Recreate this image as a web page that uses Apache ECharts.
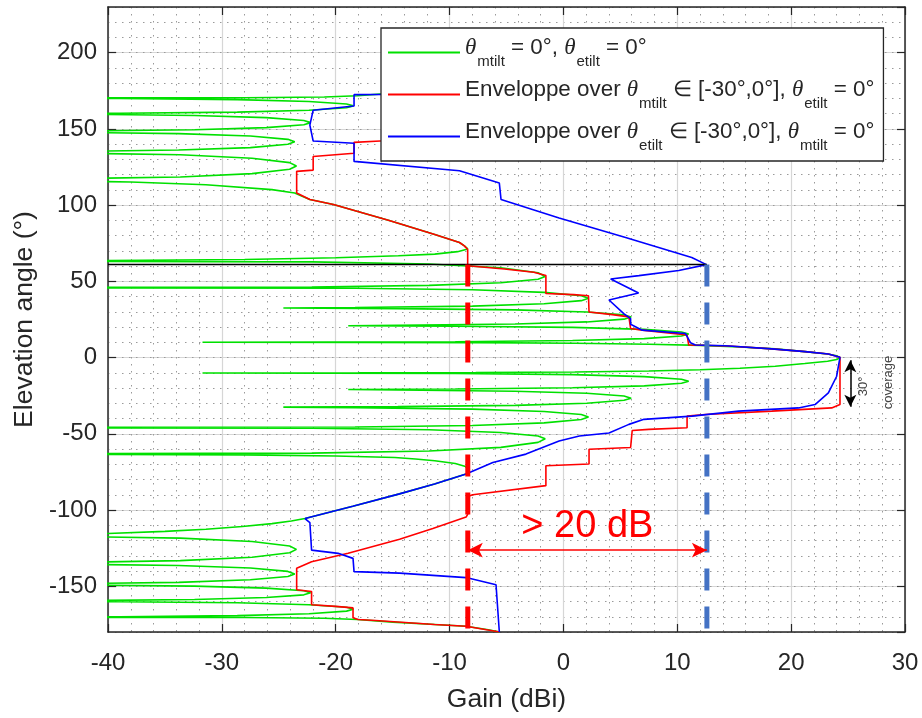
<!DOCTYPE html>
<html><head><meta charset="utf-8">
<script src="https://cdn.jsdelivr.net/npm/echarts/dist/echarts.min.js"></script>
<style>html,body{margin:0;padding:0;background:#fff}#c{width:922px;height:718px}</style>
</head><body><div id="c"></div>
<script>
// ---------- data (angle in degrees, gain in dBi) ----------
const xRange = [-40, 30];
const yRange = [-180, 230];

// green: theta_mtilt = 0, theta_etilt = 0  -> [angle, gain]
const greenBottomBack = [
  [-180,-5.6],[-178.5,-6.6],[-176.2,-8.55],[-175.1,-11.3],[-173.5,-15.0],[-171.8,-18.1],[-171.0,-21],[-170.5,-28],[-170.3,-60],
  [-169.98,-38.95],[-169.25,-28.65],[-167.99,-22.35],[-166.31,-19.05],[-165.05,-18.45],[-163.79,-19.05],[-162.11,-22.35],[-160.85,-28.65],[-160.12,-38.95],[-159.8,-60],
  [-159.47,-42.7],[-158.7,-32.4],[-157.38,-26.1],[-155.62,-22.8],[-154.3,-22.2],[-152.98,-22.8],[-151.22,-26.1],[-149.9,-32.4],[-149.13,-42.7],[-148.8,-60],
  [-148.39,-44.1],[-147.42,-33.8],[-145.76,-27.5],[-143.56,-24.2],[-141.9,-23.6],[-140.24,-24.2],[-138.04,-27.5],[-136.38,-33.8],[-135.41,-44.1],[-135.0,-60],
  [-134.45,-43.95],[-133.16,-33.65],[-130.95,-27.35],[-128.01,-24.05],[-125.8,-23.45],[-123.59,-24.05],[-120.65,-27.35],[-118.44,-33.65],[-117.15,-43.95],[-116.6,-60],
  [-116.2,-45],[-115.4,-40],[-114,-35],[-112.6,-31.4],[-110.8,-28.2],[-108.9,-25.6],[-107.2,-23.9],[-105.6,-22.7],[-97.5,-18.5],[-89.4,-14.4],[-82.9,-11.32],
  [-76.3,-8.55],[-73.5,-8.3],[-71.5,-8.6],[-69.5,-9.5],[-67.7,-11.3],[-66.5,-13],[-65.5,-14.8],[-64.5,-20],[-63.8,-28],[-63.5,-40],[-63.3,-60]
];
const greenFront = [
  [-62.69,-22.1],[-61.28,-11.8],[-58.86,-5.5],[-55.62,-2.23],[-53.2,-1.6],[-51.45,-2.23],[-49.11,-5.5],[-47.36,-11.8],[-46.34,-22.1],[-45.9,-60],
  [-45.48,-18.3],[-44.5,-8.0],[-42.82,-1.7],[-40.58,1.57],[-38.9,2.2],[-37.36,1.57],[-35.32,-1.7],[-33.78,-8.0],[-32.88,-18.3],[-32.5,-24.6],
  [-32.15,-14.55],[-31.32,-4.25],[-29.9,2.05],[-28.02,5.32],[-26.6,5.95],[-25.23,5.32],[-23.41,2.05],[-22.04,-4.25],[-21.24,-14.55],[-20.9,-18.9],
  [-20.58,-9.5],[-19.82,0.8],[-18.52,7.1],[-16.8,10.37],[-15.5,11.0],[-14.2,10.37],[-12.48,7.1],[-11.18,0.8],[-10.42,-9.5],[-10.1,-31.7],
  [-10.0,-18],[-9.8,-7.7],[-9.4,1.0],[-8.8,7.5],[-8.0,12.0],[-7.0,15.5],[-5.7,18.6],[-3.9,21.2],[-2.4,23.2],[-1.2,24.0],[0,24.3],
  [1.2,24.0],[2.4,23.2],[3.9,21.2],[5.7,18.6],[7.0,15.5],[8.0,12.0],[8.8,7.5],[9.4,1.0],[9.8,-7.7],[10.0,-18],[10.1,-31.7],
  [10.42,-9.5],[11.18,0.8],[12.48,7.1],[14.2,10.37],[15.5,11.0],[16.8,10.37],[18.52,7.1],[19.82,0.8],[20.58,-9.5],[20.9,-18.9],
  [21.24,-14.55],[22.04,-4.25],[23.41,2.05],[25.23,5.32],[26.6,5.95],[28.02,5.32],[29.9,2.05],[31.32,-4.25],[32.15,-14.55],[32.5,-24.6],
  [32.88,-18.3],[33.78,-8.0],[35.32,-1.7],[37.36,1.57],[38.9,2.2],[40.58,1.57],[42.82,-1.7],[44.5,-8.0],[45.48,-18.3],[45.9,-60],
  [46.34,-22.1],[47.36,-11.8],[49.11,-5.5],[51.45,-2.23],[53.2,-1.6],[55.65,-2.23],[58.91,-5.5],[61.36,-11.8],[62.79,-22.1],[63.4,-60]
];
const greenTopBack = [
  [63.6,-40],[64.4,-28],[65.5,-20],[66.8,-14.5],[67.9,-11.3],[69.5,-9.3],[71.3,-8.4],[73.3,-8.7],[75.5,-9.13],[80.7,-11.3],[90,-15.3],
  [100.4,-20.2],[103.7,-22.27],[106,-23.0],[108,-23.6],[110.2,-25.6],[113.4,-31.4],[115.2,-38],[116.1,-45],[116.7,-60],
  [117.24,-43.95],[118.51,-33.65],[120.68,-27.35],[123.58,-24.05],[125.75,-23.45],[127.92,-24.05],[130.82,-27.35],[133.09,-33.65],[134.26,-43.95],[134.8,-60],
  [135.2,-44.1],[136.15,-33.8],[137.77,-27.5],[139.93,-24.2],[141.55,-23.6],[143.17,-24.2],[145.33,-27.5],[146.95,-33.8],[147.9,-44.1],[148.3,-60],
  [148.65,-42.7],[149.47,-32.4],[150.87,-26.1],[152.75,-22.8],[154.15,-22.2],[155.55,-22.8],[157.43,-26.1],[158.83,-32.4],[159.65,-42.7],[160.0,-60],
  [160.31,-38.95],[161.03,-28.65],[162.27,-22.35],[163.91,-19.05],[165.15,-18.45],[166.39,-19.05],[168.03,-22.35],[169.27,-28.65],[169.99,-38.95],[170.3,-60],
  [170.5,-28],[171.0,-21],[171.8,-18.1],[173.5,-15.0],[175.1,-11.3],[176.2,-8.55],[178.5,-6.6],[180,-5.6]
];

// red: envelope over mechanical tilt -> [angle, gain]
const redEnvelope = [
  [-180,-5.6],[-179.4,-5.63],[-176.2,-8.55],[-175.1,-11.32],[-172.5,-16.5],[-171.8,-18.04],[-170.7,-18.48],[-164.2,-18.48],[-163.2,-20.0],[-162.1,-22.12],
  [-153.4,-22.12],[-152.3,-23.43],[-138.2,-23.43],[-133.9,-22.12],[-128.4,-18.91],[-119.1,-14.39],[-112.1,-11.47],[-104.6,-8.55],[-102.8,-8.41],
  [-91.1,-8.41],[-90.0,-7.97],[-84.0,-1.54],[-70.9,-1.54],[-69.8,2.25],[-60.1,2.25],[-59.0,5.9],[-47.8,6.04],[-47.1,7.5],[-46.0,10.86],
  [-38.4,10.86],[-37.3,12.47],[-35.1,18.3],[-33.0,23.56],[-30.8,24.29],[0.2,24.29],[2.4,23.27],[3.9,21.23],[5.7,18.3],[7.6,14.5],[8.3,11.0],
  [14.8,10.86],[16.4,9.0],[18.0,6.92],[19.1,5.9],[26.7,5.75],[28.2,4.3],[29.9,2.25],[40.6,2.2],[41.3,0.9],[42.1,-1.54],[53.8,-1.54],
  [56.0,-2.6],[58.1,-5.19],[60.3,-8.41],[70.9,-8.41],[73.3,-8.7],[75.5,-9.13],[80.7,-11.3],[90,-15.3],[100.4,-20.2],[103.7,-22.27],
  [108,-23.43],[122.2,-23.43],[123.0,-21.98],[131.9,-21.98],[134.1,-18.39],[141.2,-18.39],[142.1,-16.1],[142.6,-14]
];

// blue: envelope over electrical tilt -> [angle, gain]
const blueEnvelope = [
  [-180,-5.63],[-149.0,-5.92],[-144.3,-8.55],[-141.4,-14.39],[-140.4,-18.39],[-131.7,-18.48],[-128.4,-19.79],[-126.3,-22.12],[-108.2,-22.27],
  [-105.6,-22.7],[-97.5,-18.5],[-89.4,-14.4],[-82.9,-11.32],[-76.3,-8.55],[-68.8,-6.2],[-63.3,-3.29],[-54.7,-0.38],[-51.4,1.4],[-49.5,4.0],
  [-43.8,5.75],[-40.5,7.07],[-38.4,11.3],[-35.1,15.39],[-33.0,20.64],[-30.8,22.1],[-23.2,23.27],[-12.4,23.99],[0.2,24.29],
  [2.4,23.27],[3.9,21.23],[5.7,18.3],[7.8,14.22],[8.3,11.59],[9.8,11.16],[15.8,10.72],[18.0,6.92],[19.1,6.78],[21.9,5.9],[25.6,5.9],
  [28.8,5.3],[37.8,4.0],[42.4,6.6],[51.6,4.15],[53.8,6.63],[57.1,10.13],[61.0,12.56],[65.7,11.27],[78.8,5.46],[91.6,-0.38],
  [103.7,-5.48],[114.5,-5.63],[122.6,-9.13],[128.7,-18.39],[140.6,-18.39],[142.1,-21.98],[152.5,-22.27],[162.3,-21.98],[165.1,-18.39],
  [172.5,-18.39],[172.7,-16.0],[175,-11]
];

// reference lines and annotation values
const coverageEdgeAngle = 61;       // black horizontal line
const redThresholdGain = -8.4;      // red dashed line
const blueThresholdGain = 12.6;     // blue dashed line
const marginArrowAngle = -126.3;    // "> 20 dB" arrow
const marginText = '> 20 dB';
const marginTextPos = [2.1, -110.6];
const coverageArrow = { gain: 25.2, from: -1.8, to: -32.3 };
const coverageText30 = { text: '30°', pos: [26.35, -18.9] };
const coverageTextWord = { text: 'coverage', pos: [28.55, -16.3] };

const legendRich = {
  green: '{t|θ}{s|mtilt}{n| = 0°, }{t|θ}{s|etilt}{n| = 0°}',
  red: '{n|Enveloppe over }{t|θ}{s|mtilt}{n| ∈ [-30°,0°], }{t|θ}{s|etilt}{n| = 0°}',
  blue: '{n|Enveloppe over }{t|θ}{s|etilt}{n| ∈ [-30°,0°], }{t|θ}{s|mtilt}{n| = 0°}'
};

// ---------- chart ----------
const toXY = arr => arr.map(p => [p[1], p[0]]);
const greenData = toXY(greenBottomBack.concat(greenFront, greenTopBack));
const redData = toXY(redEnvelope);
const blueData = toXY(blueEnvelope);

const FONT = '"Liberation Sans", Arial, Helvetica, sans-serif';
const AX = '#262626';

const chart = echarts.init(document.getElementById('c'), null, {renderer: 'canvas'});
const option = {
  animation: false,
  grid: {left: 108, right: 17, top: 7, bottom: 81, containLabel: false},
  xAxis: [
    {type: 'value', min: xRange[0], max: xRange[1], interval: 10, position: 'bottom',
     name: 'Gain (dBi)', nameLocation: 'middle', nameGap: 54,
     nameTextStyle: {fontFamily: FONT, fontSize: 26.5, color: AX},
     axisLine: {show: true, onZero: false, lineStyle: {color: AX, width: 1.5}},
     axisTick: {show: true, inside: true, length: 8, lineStyle: {color: AX, width: 1.2}},
     axisLabel: {fontFamily: FONT, fontSize: 24, color: AX, margin: 19},
     splitLine: {show: true, lineStyle: {color: '#d6d6d6', width: 1.2}},
     minorTick: {show: false, splitNumber: 5},
     minorSplitLine: {show: true, lineStyle: {color: '#9a9a9a', width: 1, type: [1.5, 5.5]}}},
    {type: 'value', min: xRange[0], max: xRange[1], interval: 10, position: 'top',
     axisLine: {show: true, onZero: false, lineStyle: {color: AX, width: 1.5}},
     axisTick: {show: true, inside: true, length: 8, lineStyle: {color: AX, width: 1.2}},
     axisLabel: {show: false}, splitLine: {show: false}}
  ],
  yAxis: [
    {type: 'value', min: yRange[0], max: yRange[1], splitNumber: 8, position: 'left',
     name: 'Elevation angle (°)', nameLocation: 'middle', nameGap: 68, nameRotate: 90,
     nameTextStyle: {fontFamily: FONT, fontSize: 26.5, color: AX},
     axisLine: {show: true, onZero: false, lineStyle: {color: AX, width: 1.5}},
     axisTick: {show: true, inside: true, length: 8, lineStyle: {color: AX, width: 1.2}},
     axisLabel: {fontFamily: FONT, fontSize: 24, color: AX, margin: 11, padding: [9, 0, 0, 0], showMinLabel: false, showMaxLabel: false},
     splitLine: {show: true, lineStyle: {color: '#d6d6d6', width: 1.2}}},
    {type: 'value', min: yRange[0], max: yRange[1], interval: 10, position: 'right',
     axisLine: {show: false, onZero: false}, axisTick: {show: false}, axisLabel: {show: false},
     splitLine: {show: true, lineStyle: {color: '#9a9a9a', width: 1, type: [1.5, 5.5]}}},
    {type: 'value', min: yRange[0], max: yRange[1], splitNumber: 8, position: 'right',
     axisLine: {show: true, onZero: false, lineStyle: {color: AX, width: 1.5}},
     axisTick: {show: true, inside: true, length: 8, lineStyle: {color: AX, width: 1.2}},
     axisLabel: {show: false}, splitLine: {show: false}}
  ],
  legend: {
    z: 20, orient: 'vertical', left: 381, top: 28, padding: [8, 9, 8, 7], itemGap: 9,
    icon: 'rect', itemWidth: 72, itemHeight: 2, backgroundColor: '#fff', borderColor: AX, borderWidth: 1.3, borderRadius: 0,
    data: ['green', 'red', 'blue'],
    formatter: name => legendRich[name],
    textStyle: {
      rich: {
        n: {fontFamily: FONT, fontSize: 22.4, color: AX, padding: [0, 0, 10, 0], verticalAlign: 'bottom'},
        t: {fontFamily: '"Liberation Serif", "DejaVu Serif", serif', fontStyle: 'italic', fontSize: 23, color: AX, padding: [0, 1, 10, 0], verticalAlign: 'bottom'},
        s: {fontFamily: FONT, fontSize: 15, color: AX, verticalAlign: 'bottom'}
      }
    }
  },
  series: [
    {name: 'green', type: 'line', data: greenData, symbol: 'none', lineStyle: {color: '#00e000', width: 1.6}, itemStyle: {color: '#00e000'}, z: 2},
    {name: 'red', type: 'line', data: redData, symbol: 'none', lineStyle: {color: '#ff0000', width: 1.6}, itemStyle: {color: '#ff0000'}, z: 2},
    {name: 'blue', type: 'line', data: blueData, symbol: 'none', lineStyle: {color: '#0000ff', width: 1.6}, itemStyle: {color: '#0000ff'}, z: 2},
    {name: 'hline', type: 'line', data: [[xRange[0], coverageEdgeAngle], [blueThresholdGain, coverageEdgeAngle]], symbol: 'none',
     lineStyle: {color: '#000', width: 1.5}, z: 3,
     markLine: {silent: true, symbol: ['arrow', 'arrow'], symbolSize: [9, 12], label: {show: false},
       lineStyle: {color: '#000', width: 1.5, type: 'solid'},
       data: [[{coord: [coverageArrow.gain, coverageArrow.from]}, {coord: [coverageArrow.gain, coverageArrow.to]}]]},
     markPoint: {silent: true, symbol: 'rect', symbolSize: 1, itemStyle: {color: 'rgba(0,0,0,0)'},
       data: [
         {coord: coverageText30.pos, label: {show: true, position: 'inside', formatter: coverageText30.text, rotate: 90, fontFamily: FONT, fontSize: 13, color: '#444'}},
         {coord: coverageTextWord.pos, label: {show: true, position: 'inside', formatter: coverageTextWord.text, rotate: 90, fontFamily: FONT, fontSize: 13, color: '#444'}}
       ]}},
    {name: 'redDash', type: 'line', data: [[redThresholdGain, coverageEdgeAngle], [redThresholdGain, yRange[0]]], symbol: 'none',
     lineStyle: {color: '#ff0000', width: 5, type: [22, 16]}, z: 3,
     markLine: {silent: true, symbol: ['arrow', 'arrow'], symbolSize: [11, 15], label: {show: false},
       lineStyle: {color: '#ff0000', width: 1.5, type: 'solid'},
       data: [[{coord: [redThresholdGain, marginArrowAngle]}, {coord: [blueThresholdGain, marginArrowAngle]}]]},
     markPoint: {silent: true, symbol: 'rect', symbolSize: 1, itemStyle: {color: 'rgba(0,0,0,0)'},
       data: [{coord: marginTextPos, label: {show: true, position: 'inside', formatter: marginText, fontFamily: FONT, fontSize: 38, color: '#ff0000'}}]}},
    {name: 'blueDash', type: 'line', data: [[blueThresholdGain, coverageEdgeAngle], [blueThresholdGain, yRange[0]]], symbol: 'none',
     lineStyle: {color: '#4472c4', width: 5, type: [22, 16]}, z: 3}
  ]
};
chart.setOption(option);
</script>
</body></html>
